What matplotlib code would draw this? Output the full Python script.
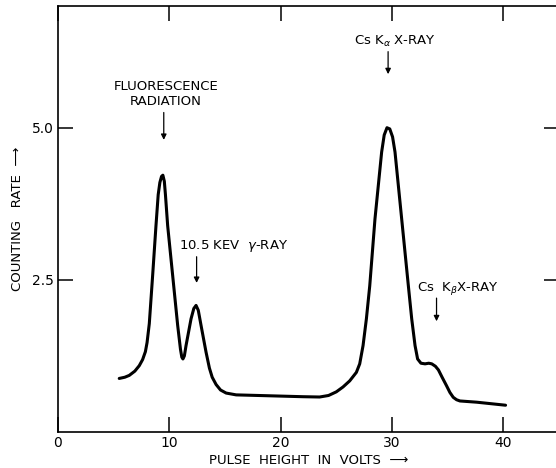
#! /usr/bin/python3

import matplotlib
matplotlib.use('Agg')
import matplotlib.pyplot as plt

# pulse height spectrum (volts, counting rate)
volts = [5.5, 6.0, 6.4, 6.9, 7.3, 7.6, 7.85, 8.0, 8.2, 8.5, 8.8, 9.0, 9.15, 9.3,
         9.42, 9.55, 9.65, 9.85, 10.3, 10.75, 11.0, 11.12, 11.22, 11.35, 11.5,
         11.95, 12.2, 12.4, 12.6, 12.85, 13.3, 13.6, 13.85, 14.2, 14.6, 15.1,
         16.0, 18.0, 20.0, 22.0, 23.5, 24.3, 25.0, 25.6, 26.2, 26.8, 27.1,
         27.4, 27.7, 28.0, 28.47, 29.07, 29.3, 29.55, 29.8, 30.05, 30.27,
         30.87, 31.47, 31.77, 32.07, 32.3, 32.6, 32.97, 33.3, 33.57, 33.9,
         34.17, 34.5, 34.9, 35.2, 35.5, 35.8, 36.1, 37.6, 40.2]
rate = [0.88, 0.9, 0.93, 1.0, 1.09, 1.19, 1.32, 1.47, 1.78, 2.57, 3.39, 3.9,
        4.1, 4.2, 4.22, 4.12, 3.9, 3.39, 2.57, 1.75, 1.36, 1.23, 1.2, 1.25,
        1.42, 1.86, 2.03, 2.08, 2.0, 1.75, 1.31, 1.05, 0.9, 0.78, 0.69, 0.64,
        0.61, 0.6, 0.59, 0.58, 0.575, 0.6, 0.66, 0.74, 0.84, 0.98, 1.12,
        1.42, 1.86, 2.4, 3.5, 4.6, 4.88, 5.0, 4.98, 4.85, 4.6,
        3.5, 2.4, 1.86, 1.42, 1.2, 1.13, 1.12, 1.13, 1.12, 1.08,
        1.02, 0.9, 0.76, 0.65, 0.57, 0.53, 0.51, 0.49, 0.44]

x_ticks = [0, 10, 20, 30, 40]
y_ticks = [2.5, 5.0]
y_tick_labels = ['2.5', '5.0']

plt.rcParams['font.family'] = ['DejaVu Sans']

fig = plt.figure(figsize=(5.56, 4.68), dpi=100)
ax = fig.add_axes([58 / 556, 36 / 468, 501 / 556, 426 / 468])

ax.plot(volts, rate, color='black', lw=2.2, solid_capstyle='round', solid_joinstyle='round')

ax.set_xlim(0, 45)
ax.set_ylim(0, 7)
ax.set_xticks(x_ticks)
ax.set_yticks(y_ticks)
ax.set_yticklabels(y_tick_labels)
ax.tick_params(direction='in', length=11, width=1.1, top=True, right=True,
               labelsize=10, pad=3)
for s in ax.spines.values():
    s.set_linewidth(1.2)

ax.set_xlabel('PULSE  HEIGHT  IN  VOLTS  \u27f6', fontsize=9.5, labelpad=3)
ax.set_ylabel('COUNTING   RATE  \u27f6', fontsize=9.5, labelpad=6)

arrow = dict(arrowstyle='-|>', lw=0.9, color='black', mutation_scale=8, shrinkA=0, shrinkB=0)
fs = 9.5

# peak labels
ax.text(9.7, 5.55, 'FLUORESCENCE\nRADIATION', ha='center', va='center', fontsize=fs,
        linespacing=1.15)
ax.annotate('', xy=(9.5, 4.8), xytext=(9.5, 5.25), arrowprops=arrow)

ax.text(10.9, 3.06, '10.5 KEV  $\\gamma$-RAY', ha='left', va='center', fontsize=fs)
ax.annotate('', xy=(12.45, 2.45), xytext=(12.45, 2.88), arrowprops=arrow)

ax.text(30.3, 6.42, 'Cs K$_{\\alpha}$ X-RAY', ha='center', va='center', fontsize=fs)
ax.annotate('', xy=(29.65, 5.88), xytext=(29.65, 6.25), arrowprops=arrow)

ax.text(32.25, 2.35, 'Cs  K$_{\\beta}$X-RAY', ha='left', va='center', fontsize=fs)
ax.annotate('', xy=(34.0, 1.82), xytext=(34.0, 2.2), arrowprops=arrow)

plt.savefig('out.png', dpi=100)
